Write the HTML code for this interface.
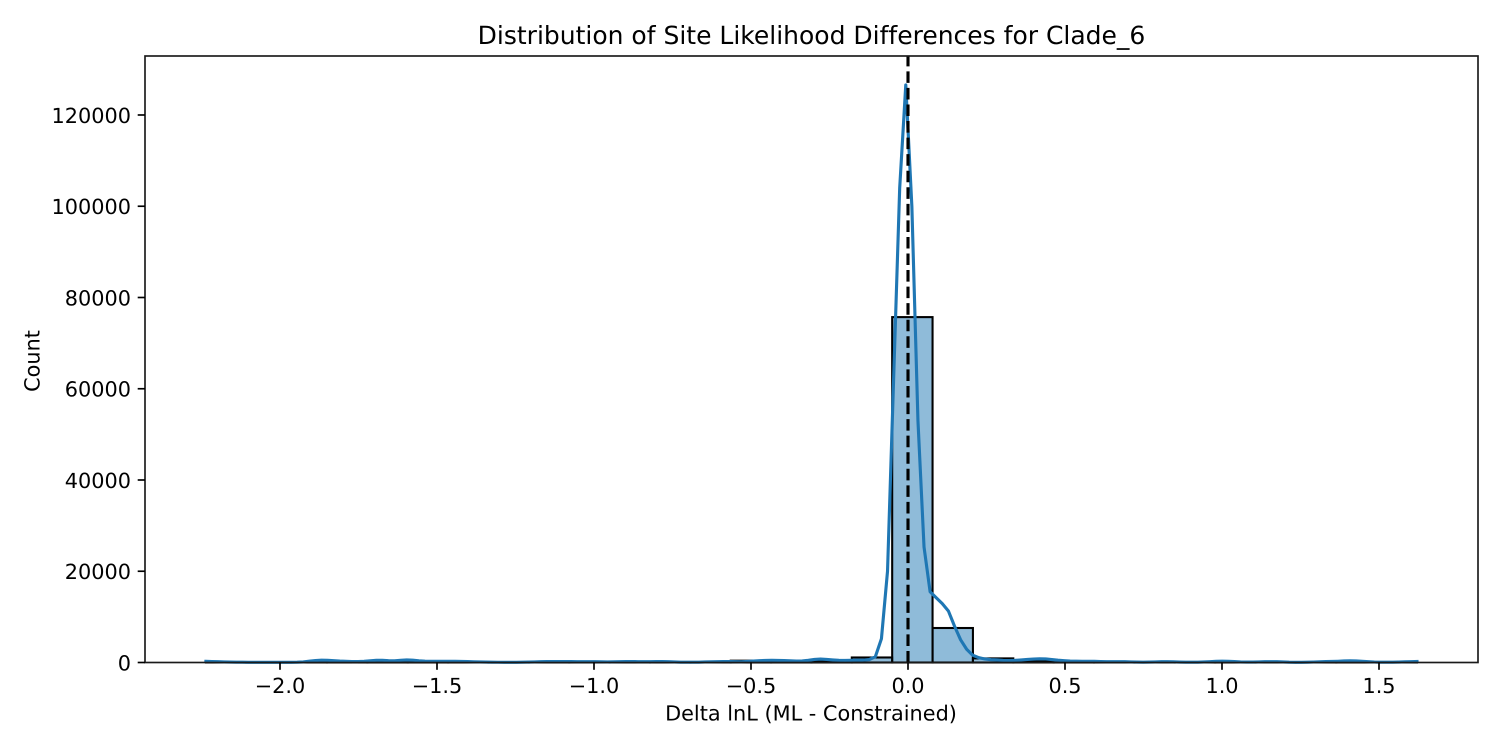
<!DOCTYPE html>
<html>
<head>
<meta charset="utf-8">
<title>Distribution of Site Likelihood Differences for Clade_6</title>
<style>
html,body{margin:0;padding:0;background:#fff;}
svg{display:block;}
text{font-family:"DejaVu Sans","Liberation Sans",sans-serif;fill:#000;font-variant-ligatures:none;text-rendering:geometricPrecision;}
</style>
</head>
<body>
<svg id="chart" xmlns="http://www.w3.org/2000/svg" width="1500" height="750" viewBox="0 0 1500 750">
<rect x="0" y="0" width="1500" height="750" fill="#ffffff"/>
<text x="811.5" y="44" font-size="25" text-anchor="middle">Distribution of Site Likelihood Differences for Clade_6</text>
<text x="811" y="720.5" font-size="20.83" text-anchor="middle">Delta lnL (ML - Constrained)</text>
<text transform="translate(39.5 361) rotate(-90)" font-size="20.83" text-anchor="middle">Count</text>
</svg>
<script>
const xTickValues = [-2.0, -1.5, -1.0, -0.5, 0.0, 0.5, 1.0, 1.5];
const xTickLabels = ['\u22122.0', '\u22121.5', '\u22121.0', '\u22120.5', '0.0', '0.5', '1.0', '1.5'];
const yTickValues = [0, 20000, 40000, 60000, 80000, 100000, 120000];
const yTickLabels = ['0', '20000', '40000', '60000', '80000', '100000', '120000'];
const dataRange = [-2.236, 1.621];
const referenceValue = [0];
const binCounts = [
  90, 30, 30, 170, 200, 240, 80, 20, 70, 80,
  70, 60, 70, 400, 320, 400, 1100, 75700, 7560, 900,
  400, 60, 50, 60, 90, 60, 50, 60, 110, 50
];
const kdeValues = [
  260, 220, 170, 130, 100, 80, 60, 50, 40, 35,
  30, 30, 30, 35, 40, 60, 120, 280, 430, 500,
  480, 400, 310, 250, 220, 220, 270, 380, 480, 470,
  390, 370, 470, 560, 500, 380, 290, 260, 260, 270,
  270, 260, 240, 200, 160, 120, 90, 70, 55, 45,
  40, 45, 60, 90, 130, 170, 200, 215, 220, 220,
  210, 190, 170, 170, 170, 150, 130, 140, 170, 200,
  210, 190, 170, 190, 210, 200, 170, 120, 80, 60,
  60, 80, 120, 160, 190, 210, 210, 180, 160, 230,
  320, 400, 450, 470, 460, 420, 360, 310, 340, 480,
  680, 740, 680, 560, 470, 450, 480, 500, 520, 650,
  1270, 5200, 20000, 62000, 104000, 126600, 100000, 53000, 25300, 15500,
  14200, 12900, 11300, 8000, 5000, 2900, 1600, 1050, 770, 620,
  560, 450, 420, 470, 560, 660, 760, 800, 770, 650,
  500, 390, 310, 280, 270, 270, 250, 210, 180, 170,
  180, 170, 130, 90, 70, 90, 130, 170, 170, 140,
  100, 70, 60, 80, 130, 190, 260, 300, 270, 200,
  130, 90, 90, 130, 170, 190, 170, 120, 70, 50,
  50, 70, 110, 160, 200, 230, 270, 330, 370, 350,
  270, 180, 110, 70, 60, 70, 100, 140, 190, 220
];

const SVG_NS = 'http://www.w3.org/2000/svg';
const svg = document.getElementById('chart');
const plot = { left: 145, right: 1478, top: 56, bottom: 662.5 };
const xScale = v => 908 + 314 * v;
const yMax = Math.max(...kdeValues) * 1.05;
const yScale = v => plot.bottom - (v / yMax) * (plot.bottom - plot.top);

function make(tag, attrs) {
  const el = document.createElementNS(SVG_NS, tag);
  for (const k in attrs) el.setAttribute(k, attrs[k]);
  svg.appendChild(el);
  return el;
}

const lo = dataRange[0];
const hi = dataRange[1];
const binWidth = (hi - lo) / binCounts.length;

binCounts.forEach((count, i) => {
  const x0 = xScale(lo + i * binWidth);
  const x1 = xScale(lo + (i + 1) * binWidth);
  const y = yScale(count);
  const bar = make('rect', { x: x0, y: y, width: x1 - x0, height: yScale(0) - y, fill: 'rgba(31,119,180,0.5)', stroke: '#000', 'stroke-width': 2.08 });
  
  
});

const kdePoints = kdeValues.map((v, i) => {
  const xv = lo + i * (hi - lo) / (kdeValues.length - 1);
  return xScale(xv).toFixed(2) + ',' + yScale(v).toFixed(2);
}).join(' ');
const kdeLine = make('polyline', { points: kdePoints, fill: 'none', stroke: '#1f77b4', 'stroke-width': 3.125, 'stroke-linejoin': 'round', 'stroke-linecap': 'square' });



const refLine = make('line', { x1: xScale(referenceValue[0]), x2: xScale(referenceValue[0]), y1: plot.bottom, y2: plot.top, stroke: '#000', 'stroke-width': 3.125, 'stroke-dasharray': '11.56 5' });



const frame = make('rect', { x: plot.left, y: plot.top, width: plot.right - plot.left, height: plot.bottom - plot.top, fill: 'none', stroke: '#1a1a1a', 'stroke-width': 1.67 });



xTickValues.forEach((v, i) => {
  const x = xScale(v);
  const tick = make('line', { x1: x, x2: x, y1: plot.bottom, y2: plot.bottom + 7.3, stroke: '#000', 'stroke-width': 1.67 });
  
  
  const label = make('text', { x: x, y: 693, 'font-size': 20.83, 'text-anchor': 'middle' });
  label.textContent = xTickLabels[i];
  
  
});

yTickValues.forEach((v, i) => {
  const y = yScale(v);
  const tick = make('line', { x1: plot.left - 7.3, x2: plot.left, y1: y, y2: y, stroke: '#000', 'stroke-width': 1.67 });
  
  
  const label = make('text', { x: 131, y: y + 7.9, 'font-size': 20.83, 'text-anchor': 'end' });
  label.textContent = yTickLabels[i];
  
  
});
</script>
</body>
</html>
